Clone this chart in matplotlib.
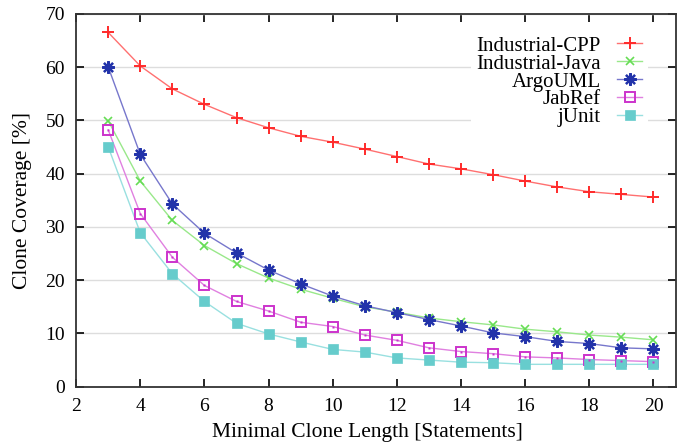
import numpy as np
import matplotlib
matplotlib.use("Agg")
import matplotlib.pyplot as plt

# Data
lengths = list(range(3, 21))
industrial_cpp = [66.5, 60.2, 55.9, 53.0, 50.5, 48.6, 47.0, 45.9, 44.6, 43.2,
                  41.8, 40.9, 39.8, 38.6, 37.5, 36.6, 36.1, 35.6]
industrial_java = [49.9, 38.6, 31.2, 26.5, 23.1, 20.4, 18.3, 16.6, 15.0, 14.0,
                   12.9, 12.2, 11.6, 10.8, 10.3, 9.7, 9.3, 8.8]
argouml = [60.0, 43.6, 34.3, 28.8, 25.1, 21.9, 19.3, 17.0, 15.2, 13.9,
           12.6, 11.4, 10.1, 9.4, 8.5, 8.1, 7.3, 7.1]
jabref = [48.2, 32.5, 24.3, 19.0, 16.0, 14.2, 12.1, 11.3, 9.7, 8.7,
          7.3, 6.6, 6.2, 5.6, 5.4, 5.1, 4.9, 4.7]
junit = [45.0, 28.9, 21.2, 16.0, 11.9, 9.9, 8.4, 7.0, 6.5, 5.4,
         5.0, 4.6, 4.5, 4.2, 4.2, 4.2, 4.2, 4.2]

series_names = ["Industrial-CPP", "Industrial-Java", "ArgoUML", "JabRef", "jUnit"]
x_ticks = [2, 4, 6, 8, 10, 12, 14, 16, 18, 20]
y_ticks = [0, 10, 20, 30, 40, 50, 60, 70]

# Styles
styles = [
    dict(color="#ff2a2a", marker="+", ms=9, mew=1.4, mfc="none"),
    dict(color="#66dd55", marker="x", ms=6, mew=1.2, mfc="none"),
    dict(color="#2233aa", marker=(8, 2, 0), ms=9, mew=1.6, mfc="none"),
    dict(color="#cc33cc", marker="s", ms=7, mew=1.4, mfc="none"),
    dict(color="#66cccc", marker="s", ms=7, mew=0.5, mfc="#66cccc"),
]
line_colors = ["#ff7070", "#99e88a", "#7777cc", "#e080e0", "#99e0e0"]

plt.rcParams['font.family'] = ['Liberation Serif', 'DejaVu Serif']

fig = plt.figure(figsize=(6.8, 4.45), dpi=100)
ax = fig.add_axes([0.112, 0.131, 0.882, 0.838])

all_series = [industrial_cpp, industrial_java, argouml, jabref, junit]
for i, (name, vals) in enumerate(zip(series_names, all_series)):
    st = styles[i]
    ax.plot(lengths, vals, color=line_colors[i], linewidth=1.0, zorder=2)
    ax.plot(lengths, vals, linestyle="none", marker=st["marker"], markersize=st["ms"],
            markeredgewidth=st["mew"], markeredgecolor=st["color"],
            markerfacecolor=st["mfc"], zorder=3)
    # legend handle
    ax.plot([], [], color=line_colors[i], linewidth=1.0, marker=st["marker"],
            markersize=st["ms"], markeredgewidth=st["mew"], markeredgecolor=st["color"],
            markerfacecolor=st["mfc"], label=name)

# small dot inside JabRef squares
ax.plot(lengths, jabref, linestyle="none", marker="s", markersize=2,
        markerfacecolor="#cc33cc", markeredgecolor="none", zorder=4)

ax.set_xlim(2, 20.7)
ax.set_ylim(0, 70)
ax.set_xticks(x_ticks)
ax.set_yticks(y_ticks)
ax.tick_params(direction="in", top=True, right=True, length=6, labelsize=14,
               width=1.2)
ax.tick_params(axis="x", pad=8)
ax.tick_params(axis="y", pad=8)
ax.grid(axis="y", color="#dddddd", linewidth=1.0, zorder=0)
ax.set_axisbelow(True)
for sp in ax.spines.values():
    sp.set_linewidth(1.3)
    sp.set_color("#333333")

ax.set_xlabel("Minimal Clone Length [Statements]", fontsize=15.5)
ax.xaxis.set_label_coords(0.485, -0.097)
ax.set_ylabel("Clone Coverage [%]", fontsize=15.5)
ax.yaxis.set_label_coords(-0.073, 0.5)

leg = ax.legend(loc="upper right", bbox_to_anchor=(0.97, 0.982), markerfirst=False,
                frameon=True, fontsize=15, handlelength=1.2, handletextpad=0.8,
                labelspacing=-0.08, borderpad=0.25)
leg.get_frame().set_edgecolor("none")
leg.get_frame().set_facecolor("white")
leg.get_frame().set_alpha(1)
for t in leg.get_texts():
    t.set_ha("right")
leg._legend_box.align = "right"

fig.savefig("out.png", dpi=100)
